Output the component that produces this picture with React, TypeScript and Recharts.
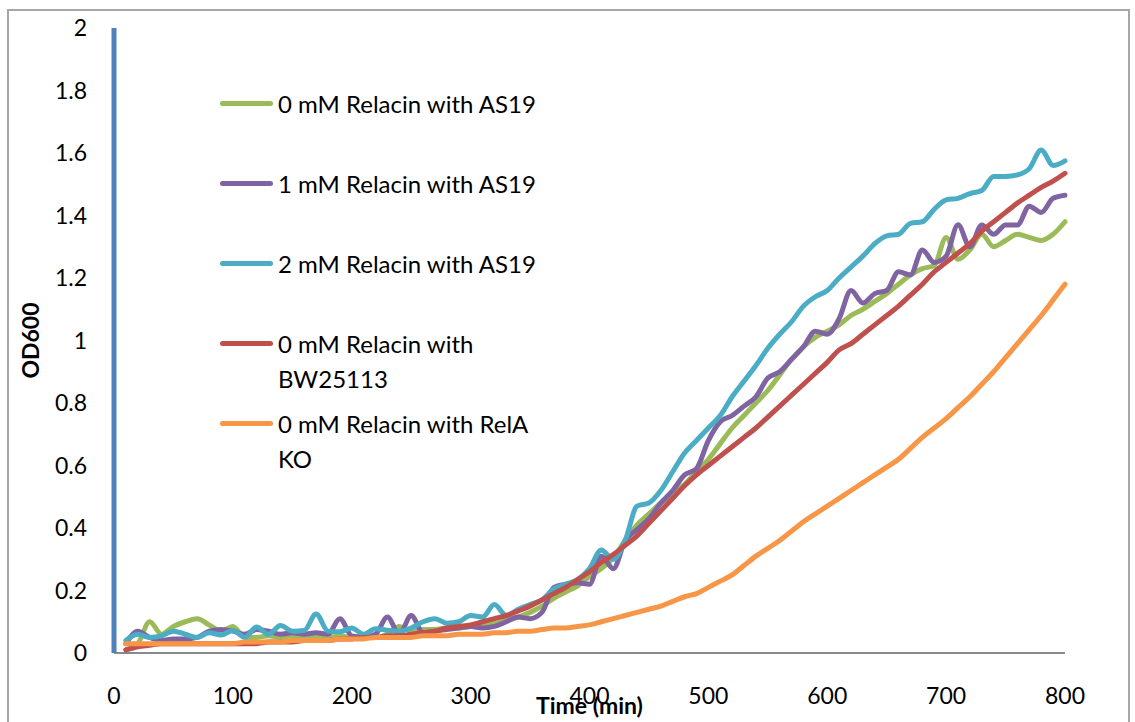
import { LineChart, Line, XAxis, YAxis } from "recharts";

const TIMES = [
  10, 20, 30, 40, 50, 60, 70, 80, 90, 100,
  110, 120, 130, 140, 150, 160, 170, 180, 190, 200,
  210, 220, 230, 240, 250, 260, 270, 280, 290, 300,
  310, 320, 330, 340, 350, 360, 370, 380, 390, 400,
  410, 420, 430, 440, 450, 460, 470, 480, 490, 500,
  510, 520, 530, 540, 550, 560, 570, 580, 590, 600,
  610, 620, 630, 640, 650, 660, 670, 680, 690, 700,
  710, 720, 730, 740, 750, 760, 770, 780, 790, 800,
];

// 0 mM Relacin with AS19
const AS19_0 = [
  0.01, 0.03, 0.10, 0.06, 0.085, 0.10, 0.11, 0.09, 0.07, 0.085,
  0.05, 0.05, 0.055, 0.05, 0.055, 0.05, 0.055, 0.05, 0.055, 0.05,
  0.055, 0.05, 0.06, 0.085, 0.07, 0.075, 0.075, 0.08, 0.08, 0.085,
  0.09, 0.095, 0.105, 0.115, 0.13, 0.15, 0.175, 0.195, 0.215, 0.245,
  0.27, 0.305, 0.36, 0.41, 0.445, 0.48, 0.51, 0.54, 0.58, 0.62,
  0.67, 0.72, 0.76, 0.80, 0.84, 0.89, 0.94, 0.98, 1.01, 1.03,
  1.05, 1.08, 1.10, 1.125, 1.15, 1.18, 1.21, 1.23, 1.24, 1.33,
  1.26, 1.29, 1.34, 1.30, 1.32, 1.34, 1.33, 1.32, 1.34, 1.38,
];

// 1 mM Relacin with AS19
const AS19_1 = [
  0.03, 0.07, 0.05, 0.04, 0.045, 0.045, 0.05, 0.07, 0.075, 0.07,
  0.06, 0.075, 0.07, 0.06, 0.065, 0.06, 0.065, 0.06, 0.11, 0.055,
  0.05, 0.06, 0.115, 0.06, 0.12, 0.065, 0.07, 0.075, 0.08, 0.085,
  0.08, 0.085, 0.10, 0.115, 0.11, 0.13, 0.21, 0.22, 0.225, 0.22,
  0.31, 0.27, 0.36, 0.395, 0.43, 0.48, 0.52, 0.57, 0.59, 0.68,
  0.74, 0.76, 0.79, 0.82, 0.88, 0.90, 0.94, 0.98, 1.03, 1.02,
  1.07, 1.16, 1.12, 1.15, 1.16, 1.22, 1.21, 1.29, 1.25, 1.27,
  1.37, 1.30, 1.37, 1.34, 1.37, 1.37, 1.43, 1.41, 1.455, 1.465,
];

// 2 mM Relacin with AS19
const AS19_2 = [
  0.04, 0.06, 0.05, 0.055, 0.07, 0.06, 0.05, 0.065, 0.058, 0.072,
  0.05, 0.083, 0.06, 0.088, 0.07, 0.072, 0.125, 0.07, 0.068, 0.08,
  0.06, 0.078, 0.073, 0.07, 0.08, 0.10, 0.11, 0.095, 0.10, 0.12,
  0.115, 0.155, 0.12, 0.14, 0.155, 0.17, 0.205, 0.22, 0.235, 0.27,
  0.33, 0.30, 0.36, 0.47, 0.48, 0.52, 0.58, 0.64, 0.68, 0.72,
  0.76, 0.82, 0.87, 0.92, 0.975, 1.02, 1.06, 1.11, 1.14, 1.16,
  1.20, 1.235, 1.27, 1.31, 1.335, 1.34, 1.375, 1.38, 1.42, 1.45,
  1.455, 1.47, 1.48, 1.525, 1.525, 1.53, 1.55, 1.61, 1.56, 1.575,
];

// 0 mM Relacin with BW25113
const BW25113 = [
  0.01, 0.02, 0.025, 0.03, 0.03, 0.03, 0.03, 0.03, 0.03, 0.03,
  0.03, 0.03, 0.035, 0.035, 0.035, 0.04, 0.04, 0.04, 0.045, 0.045,
  0.05, 0.05, 0.055, 0.055, 0.06, 0.065, 0.07, 0.08, 0.085, 0.09,
  0.10, 0.11, 0.12, 0.135, 0.15, 0.17, 0.19, 0.21, 0.235, 0.26,
  0.29, 0.315, 0.345, 0.375, 0.415, 0.455, 0.495, 0.535, 0.57, 0.60,
  0.63, 0.66, 0.69, 0.72, 0.755, 0.79, 0.825, 0.86, 0.895, 0.93,
  0.97, 0.99, 1.02, 1.05, 1.08, 1.11, 1.145, 1.18, 1.22, 1.25,
  1.28, 1.31, 1.35, 1.38, 1.41, 1.44, 1.465, 1.49, 1.51, 1.535,
];

// 0 mM Relacin with RelA KO
const RELA_KO = [
  0.03, 0.03, 0.03, 0.03, 0.03, 0.03, 0.03, 0.03, 0.03, 0.03,
  0.035, 0.035, 0.035, 0.035, 0.04, 0.04, 0.04, 0.04, 0.045, 0.045,
  0.045, 0.05, 0.05, 0.05, 0.05, 0.055, 0.055, 0.055, 0.06, 0.06,
  0.06, 0.065, 0.065, 0.07, 0.07, 0.075, 0.08, 0.08, 0.085, 0.09,
  0.10, 0.11, 0.12, 0.13, 0.14, 0.15, 0.165, 0.18, 0.19, 0.21,
  0.23, 0.25, 0.28, 0.31, 0.335, 0.36, 0.39, 0.42, 0.445, 0.47,
  0.495, 0.52, 0.545, 0.57, 0.595, 0.62, 0.655, 0.69, 0.72, 0.75,
  0.785, 0.82, 0.86, 0.90, 0.945, 0.99, 1.035, 1.08, 1.13, 1.18,
];

const X_TICKS = [0, 100, 200, 300, 400, 500, 600, 700, 800];
const Y_TICKS = [0, 0.2, 0.4, 0.6, 0.8, 1, 1.2, 1.4, 1.6, 1.8, 2];

const SERIES = [
  { key: "as19_0", label: "0 mM Relacin with AS19", color: "#9BBB59" },
  { key: "as19_1", label: "1 mM Relacin with AS19", color: "#8064A2" },
  { key: "as19_2", label: "2 mM Relacin with AS19", color: "#4BACC6" },
  { key: "bw", label: "0 mM Relacin with BW25113", color: "#C0504D" },
  { key: "relA", label: "0 mM Relacin with RelA KO", color: "#F79646" },
];

const data = TIMES.map((t, i) => ({
  t,
  as19_0: AS19_0[i],
  as19_1: AS19_1[i],
  as19_2: AS19_2[i],
  bw: BW25113[i],
  relA: RELA_KO[i],
}));

const FONT = "Lato, 'Open Sans', sans-serif";

function YTitle(props: any) {
  const vb = props.viewBox || { x: 0, y: 0, width: 0, height: 0 };
  const cx = vb.x + 30;
  const cy = vb.y + vb.height / 2;
  return (
    <text
      x={cx}
      y={cy}
      transform={`rotate(-90, ${cx}, ${cy})`}
      textAnchor="middle"
      dominantBaseline="central"
      fontWeight="bold"
      fontSize={23}
      fontFamily={FONT}
      fill="#000"
    >
      OD600
    </text>
  );
}

export default function App() {
  return (
    <div
      style={{
        position: "absolute",
        left: 0,
        top: 0,
        width: 1135,
        height: 722,
        overflow: "hidden",
        background: "#fff",
        fontFamily: FONT,
      }}
    >
      {/* chart frame */}
      <div
        style={{
          position: "absolute",
          left: 7,
          top: 9,
          width: 1119,
          height: 740,
          border: "2px solid #A6A6A6",
        }}
      />
      <div style={{ position: "absolute", left: 0, top: 0 }}>
        <LineChart
          width={1135}
          height={722}
          data={data}
          margin={{ top: 28, right: 70, left: 0, bottom: 0 }}
        >
          <XAxis
            dataKey="t"
            type="number"
            domain={[0, 800]}
            ticks={X_TICKS}
            height={69}
            tickLine={false}
            tickSize={0}
            tickMargin={35}
            axisLine={{ stroke: "#898989", strokeWidth: 2 }}
            tick={{ fontSize: 23, fill: "#000", fontFamily: FONT }}
            label={{
              value: "Time (min)",
              position: "insideBottom",
              offset: 8,
              fontSize: 23,
              fontWeight: "bold",
              fill: "#000",
              fontFamily: FONT,
            }}
          />
          <YAxis
            type="number"
            domain={[0, 2]}
            ticks={Y_TICKS}
            width={114}
            tickLine={false}
            tickSize={0}
            tickMargin={27}
            axisLine={{ stroke: "#4F81BD", strokeWidth: 5 }}
            tick={{ fontSize: 23, fill: "#000", fontFamily: FONT }}
            label={<YTitle />}
          />
          {SERIES.map((s) => (
            <Line
              key={s.key}
              dataKey={s.key}
              type="monotone"
              stroke={s.color}
              strokeWidth={5}
              strokeLinejoin="round"
              strokeLinecap="round"
              dot={false}
              activeDot={false}
              isAnimationActive={false}
            />
          ))}
        </LineChart>
      </div>

      {/* legend inside the plot, Excel style */}
      <div style={{ position: "absolute", left: 220, top: 63 }}>
        {SERIES.map((s) => (
          <div
            key={s.key}
            style={{ height: 80, display: "flex", alignItems: "flex-start", paddingTop: 22.5, boxSizing: "border-box" }}
          >
            <span
              style={{
                width: 53,
                height: 5,
                borderRadius: 3,
                background: s.color,
                marginTop: 15,
                marginRight: 5,
                flex: "none",
              }}
            />
            <span style={{ width: 270, fontSize: 24, lineHeight: "35px", color: "#000" }}>{s.label}</span>
          </div>
        ))}
      </div>
    </div>
  );
}
